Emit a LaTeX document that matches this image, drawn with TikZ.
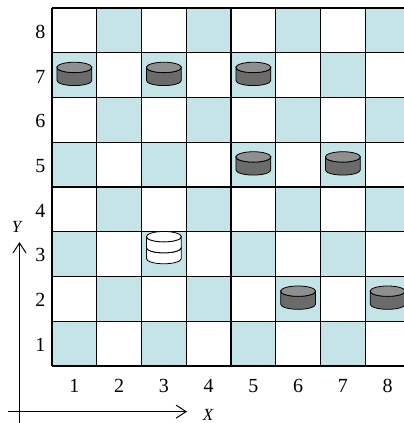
\documentclass[tikz,border=0pt]{standalone}
\usepackage{fontspec}
\setmainfont{Liberation Serif}
\usetikzlibrary{arrows.meta, positioning}
\definecolor{boardblue}{RGB}{197,228,231}

\begin{document}
\begin{tikzpicture}[
    x=44.75pt, y=44.75pt,
    square/.style={fill=boardblue},
    gridline/.style={line width=1.3pt},
    axis/.style={-{Straight Barb[length=10pt,width=13pt]}, line width=1pt},
    label/.style={font=\fontsize{20}{20}\selectfont, inner sep=0pt},
    axislabel/.style={font=\fontsize{17}{17}\selectfont\itshape, inner sep=0pt},
    dark/.style={disk side/.style={fill=black!58}, disk top/.style={fill=black!44}},
    light/.style={disk side/.style={fill=white}, disk top/.style={fill=white}},
    disk side/.style={}, disk top/.style={},
    pics/disk/.style={code={
        \path[disk side, draw, line width=0.8pt] (-0.39,#1) -- (-0.39,0)
            arc[start angle=180, end angle=360, x radius=0.39, y radius=0.116]
            -- (0.39,#1) arc[start angle=0, end angle=-180, x radius=0.39, y radius=0.116] -- cycle;
        \path[disk top, draw, line width=0.8pt] (0,#1) ellipse[x radius=0.39, y radius=0.116];
    }},
    pics/disk/.default=0.29
]
    \useasboundingbox (-1.162,-1.274) rectangle (7.866,8.179);

    % board
    \foreach \c in {1,...,8}
        \foreach \r in {1,...,8}{
            \pgfmathtruncatemacro\odd{mod(\c+\r,2)}
            \ifnum\odd=0 \fill[square] (\c-1,\r-1) rectangle (\c,\r); \fi
        }
    \foreach \i in {0,...,8}{
        \draw[gridline] (\i,0) -- (\i,8);
        \draw[gridline] (0,\i) -- (8,\i);
    }

    % numbers
    \foreach \n in {1,...,8}{
        \node[label] (col\n) at (\n-0.5,-0.452) {\n};
        \node[label] (row\n) at (-0.257,\n-0.53) {\n};
    }

    % pieces
    \foreach \c/\r in {1/7, 3/7, 5/7, 5/5, 7/5, 6/2, 8/2}
        \pic[dark] at (\c-0.5,\r-0.618) {disk};
    \pic[light] at (2.5,2.4) {disk=0.245};
    \pic[light] at (2.5,2.645) {disk=0.245};

    % axes
    \coordinate (ybase) at (-0.726,-1.3);
    \coordinate (ytip) at (-0.726,2.77);
    \coordinate (xbase) at (-0.983,-1.02);
    \coordinate (xtip) at (3.017,-1.02);
    \draw[axis] (ybase) -- (ytip);
    \draw[axis] (xbase) -- (xtip);
    \node[axislabel] (xlabel) at (3.49,-1.1) {X};
    \node[axislabel] (ylabel) at (-0.789,3.106) {Y};
\end{tikzpicture}
\end{document}
